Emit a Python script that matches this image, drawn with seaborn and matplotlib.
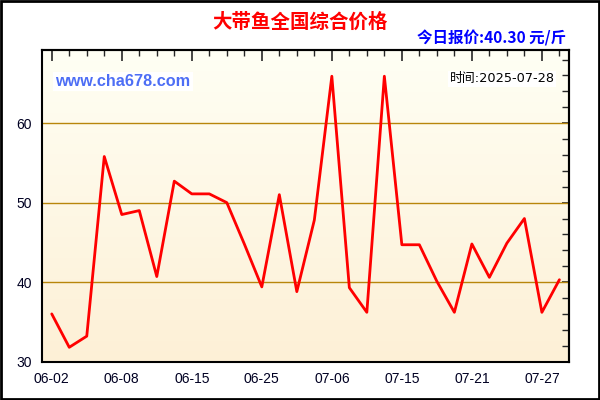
import numpy as np
import matplotlib
matplotlib.use("Agg")
import matplotlib.pyplot as plt
from matplotlib.colors import LinearSegmentedColormap
from matplotlib.patches import Rectangle
import seaborn as sns

# price data (yuan / jin), one point per report date
dates = ["06-02", "06-03", "06-05", "06-06", "06-08", "06-09", "06-10", "06-12",
         "06-15", "06-16", "06-18", "06-20", "06-25", "06-27", "06-29", "07-02",
         "07-06", "07-08", "07-10", "07-12", "07-15", "07-16", "07-18", "07-19",
         "07-21", "07-23", "07-24", "07-26", "07-27", "07-28"]
prices = [36.0, 31.8, 33.2, 55.8, 48.5, 49.0, 40.7, 52.7,
          51.1, 51.1, 50.0, 44.8, 39.4, 51.0, 38.8, 47.8,
          65.9, 39.3, 36.2, 65.9, 44.7, 44.7, 40.1, 36.2,
          44.8, 40.6, 44.9, 48.0, 36.2, 40.3]
label_every = 4
y_major = [30, 40, 50, 60]

sns.set_theme(style="white")
plt.rcParams['font.family'] = ['Liberation Sans', 'Noto Sans CJK SC', 'DejaVu Sans']
cjk = ["Noto Sans CJK SC", "DejaVu Sans"]

fig = plt.figure(figsize=(6, 4), dpi=100)
ax = fig.add_axes([0.0705, 0.096, 0.877, 0.779])

idx = np.arange(len(prices))
sns.lineplot(x=idx, y=prices, color="#ff0000", linewidth=2, ax=ax, zorder=5)

# gradient background
grad = np.linspace(0, 1, 256).reshape(-1, 1)
cmap = LinearSegmentedColormap.from_list("bg", ["#fffff4", "#fdf0d6"])
ax.imshow(grad, cmap=cmap, extent=[0, 1, 0, 1], transform=ax.transAxes,
          aspect="auto", zorder=0, origin="upper")

ax.set_xlim(-0.54, len(prices) - 0.48)
ax.set_ylim(30, 69.2)

for g in y_major[1:]:
    ax.axhline(g, color="#b8860b", linewidth=1, zorder=2)

ax.set_xticks(idx[::label_every])
ax.set_xticklabels([dates[i] for i in idx[::label_every]])
ax.set_xticks(idx, minor=True)
ax.set_yticks(y_major)
ax.set_yticks(np.arange(30, 70, 2), minor=True)

for s in ax.spines.values():
    s.set_color("black")
    s.set_linewidth(1.5)

ax.tick_params(axis="both", which="both", colors="black", labelcolor="#000022",
               labelsize=10)
ax.tick_params(axis="x", which="major", direction="inout", length=9, width=1.2, pad=3)
ax.tick_params(axis="x", which="minor", direction="out", length=4, width=1)
ax.tick_params(axis="y", which="major", direction="inout", length=9, width=1.2, pad=3)
ax.tick_params(axis="y", which="minor", direction="inout", length=7, width=1)
ax.set_xlabel("")
ax.set_ylabel("")
ax.grid(False)

# inward ticks on the top and right edges
top = ax.secondary_xaxis("top")
top.set_xticks(idx[::label_every])
top.set_xticks(idx, minor=True)
top.tick_params(which="major", direction="in", length=8, width=1.2, labeltop=False)
top.tick_params(which="minor", direction="in", length=4, width=1)
right = ax.secondary_yaxis("right")
right.set_yticks(y_major)
right.set_yticks(np.arange(30, 70, 2), minor=True)
right.tick_params(which="major", direction="in", length=5, width=1.2, labelright=False)
right.tick_params(which="minor", direction="in", length=5, width=1)
for sec in (top, right):
    for s in sec.spines.values():
        s.set_linewidth(1.5)

fig.text(0.5, 0.945, "大带鱼全国综合价格", ha="center", va="center",
         color="#ff0000", fontsize=14, fontweight="bold", family=cjk)
fig.text(0.943, 0.903, "今日报价:40.30 元/斤", ha="right", va="center",
         color="#0000ff", fontsize=11.2, fontweight="bold", family=cjk)
ax.text(0.025, 0.9, "www.cha678.com", transform=ax.transAxes, ha="left",
        va="center", color="#4d6ef5", fontsize=11.7, fontweight="bold",
        bbox=dict(facecolor="white", edgecolor="none", pad=1.5), zorder=6)
ax.text(0.974, 0.907, "时间:2025-07-28", transform=ax.transAxes, ha="right",
        va="center", color="#000000", fontsize=9.3,
        family=["DejaVu Sans", "Noto Sans CJK SC"],
        bbox=dict(facecolor="white", edgecolor="none", pad=1.2), zorder=6)

fig.patches.append(Rectangle((0.002, 0.003), 0.996, 0.994, transform=fig.transFigure,
                             fill=False, edgecolor="black", linewidth=2))

fig.savefig("out.png", dpi=100, facecolor="white")
